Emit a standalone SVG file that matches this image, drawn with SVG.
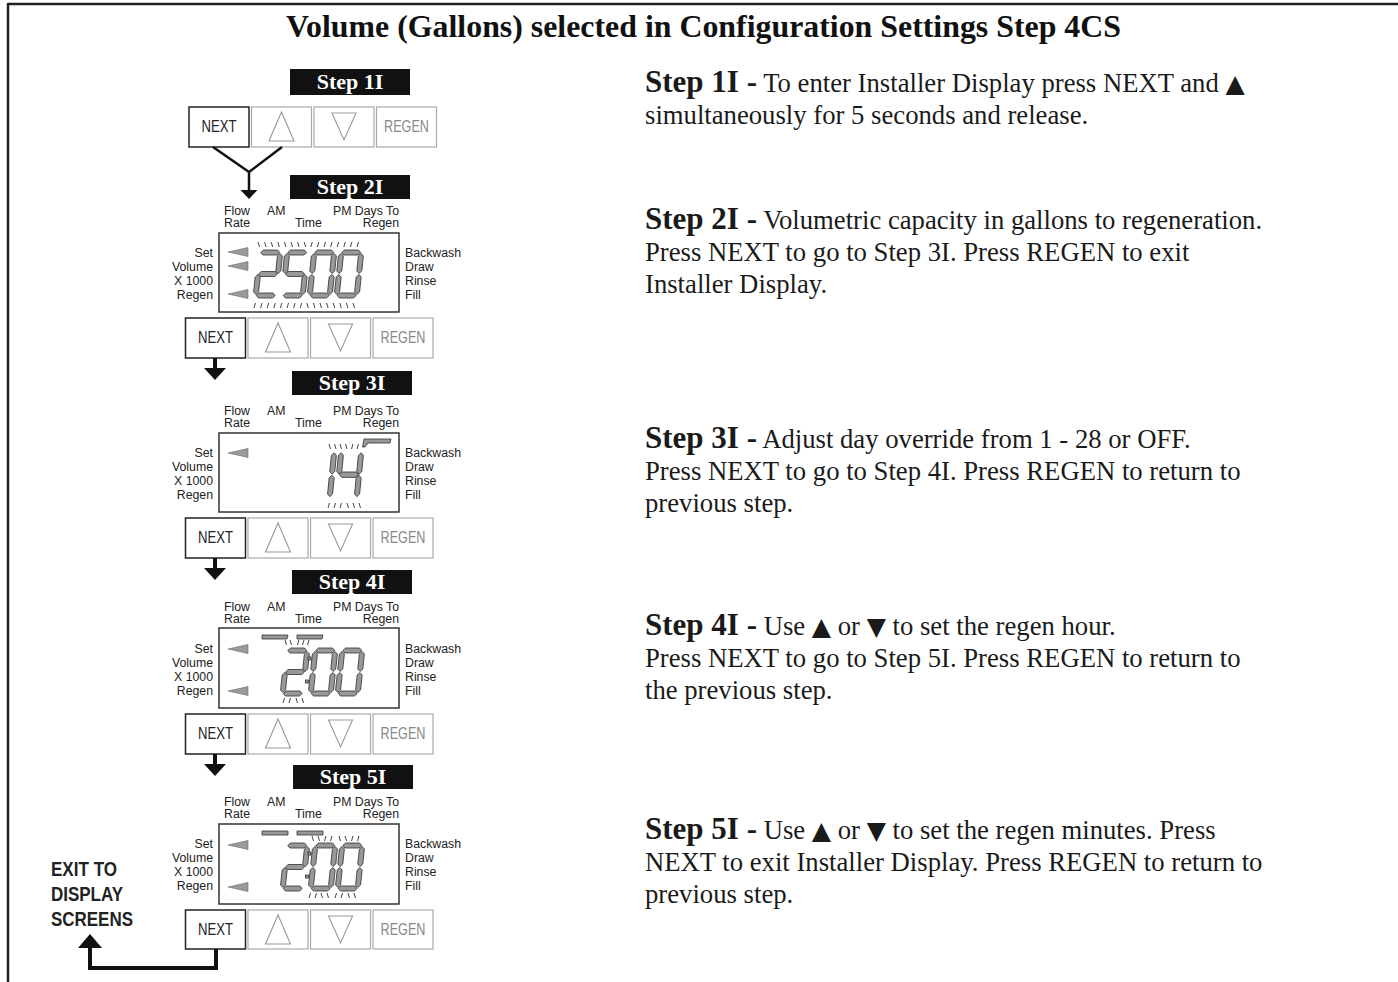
<svg xmlns="http://www.w3.org/2000/svg" xmlns:xlink="http://www.w3.org/1999/xlink" width="1398" height="982" viewBox="0 0 1398 982">
<style>
.title{font-family:"Liberation Serif","Times New Roman",serif;font-weight:bold;font-size:31.5px;fill:#111}
.body{font-family:"Liberation Serif","Times New Roman",serif;font-size:26.7px;fill:#1a1a1a}
.bstep{font-weight:bold;font-size:31px}
.tri2{font-family:"DejaVu Sans",sans-serif;font-size:25px}
.tag{fill:#111}
.tagt{font-family:"Liberation Serif","Times New Roman",serif;font-weight:bold;font-size:22px;fill:#fff;text-anchor:middle}
.lcd{font-family:"Liberation Sans",Arial,sans-serif;font-size:12.3px;fill:#222}
.r{text-anchor:end}
.box{fill:#fff;stroke:#333;stroke-width:1.5}
.bnext{fill:#fff;stroke:#222;stroke-width:1.5}
.bgr{fill:#fff;stroke:#aaa;stroke-width:1.2}
.tri{fill:none;stroke:#999;stroke-width:1.1}
.btxt{font-family:"Liberation Sans",Arial,sans-serif;font-size:16.5px;text-anchor:middle}
.seg{fill:#989898;stroke:#333;stroke-width:0.8}
.ind{fill:#9a9a9a;stroke:#6a6a6a;stroke-width:0.6}
.tick{fill:none;stroke:#444;stroke-width:1}
.con{fill:none;stroke:#111;stroke-linejoin:miter}
.head{fill:#111}
.exit{font-family:"Liberation Sans",Arial,sans-serif;font-weight:bold;font-size:20px;fill:#222}
</style>
<defs>
<polygon id="sA" class="seg" points="3,2.5 5.5,0 19.5,0 22,2.5 19.5,5 5.5,5"/>
<polygon id="sG" class="seg" points="3,24 5.5,21.5 19.5,21.5 22,24 19.5,26.5 5.5,26.5"/>
<polygon id="sD" class="seg" points="3,45.5 5.5,43 19.5,43 22,45.5 19.5,48 5.5,48"/>
<polygon id="sF" class="seg" points="2.5,3.5 5,6 5,21 2.5,23.5 0,21 0,6"/>
<polygon id="sB" class="seg" points="22.5,3.5 25,6 25,21 22.5,23.5 20,21 20,6"/>
<polygon id="sE" class="seg" points="2.5,24.5 5,27 5,42 2.5,44.5 0,42 0,27"/>
<polygon id="sC" class="seg" points="22.5,24.5 25,27 25,42 22.5,44.5 20,42 20,27"/>
<g id="d0"><use href="#sA"/><use href="#sB"/><use href="#sC"/><use href="#sD"/><use href="#sE"/><use href="#sF"/></g>
<g id="d1"><use href="#sB"/><use href="#sC"/></g>
<g id="d2"><use href="#sA"/><use href="#sB"/><use href="#sG"/><use href="#sE"/><use href="#sD"/></g>
<g id="d4"><use href="#sF"/><use href="#sG"/><use href="#sB"/><use href="#sC"/></g>
<g id="d5"><use href="#sA"/><use href="#sF"/><use href="#sG"/><use href="#sC"/><use href="#sD"/></g>
<polygon id="arr" class="ind" points="0,0 20,-4.5 20,4.5"/>
</defs>

<g id="frame">
<line x1="8" y1="4" x2="1398" y2="4" stroke="#222" stroke-width="2.5"/>
<line x1="8" y1="3" x2="8" y2="982" stroke="#222" stroke-width="2.5"/>
</g>

<text id="title" class="title" x="286" y="37" textLength="835" lengthAdjust="spacingAndGlyphs">Volume (Gallons) selected in Configuration Settings Step 4CS</text>

<!-- Step 1I -->
<g id="step1I">
<rect class="tag" x="290" y="69" width="120" height="26"/>
<text class="tagt" x="350" y="89">Step 1I</text>
<rect class="bnext" x="189" y="107" width="60" height="40"/>
<text class="btxt" x="219" y="132" textLength="35" lengthAdjust="spacingAndGlyphs" fill="#222">NEXT</text>
<rect class="bgr" x="251.5" y="107" width="60" height="40"/>
<polygon class="tri" points="281.5,112 269,141 294,141"/>
<rect class="bgr" x="314" y="107" width="60" height="40"/>
<polygon class="tri" points="332,113 356,113 344,140"/>
<rect class="bgr" x="376.5" y="107" width="60" height="40"/>
<text class="btxt" x="406.5" y="132" textLength="45" lengthAdjust="spacingAndGlyphs" fill="#888">REGEN</text>
</g>

<!-- Step 2I -->
<g id="step2I">
<rect class="tag" x="290" y="175" width="120" height="24"/>
<text class="tagt" x="350" y="194">Step 2I</text>
<text class="lcd" x="224" y="215">Flow</text><text class="lcd" x="224" y="226.5">Rate</text>
<text class="lcd" x="267" y="215">AM</text><text class="lcd" x="295" y="227">Time</text>
<text class="lcd" x="333" y="215">PM Days To</text><text class="lcd r" x="399" y="226.5">Regen</text>
<text class="lcd r" x="213" y="257">Set</text><text class="lcd r" x="213" y="271">Volume</text>
<text class="lcd r" x="213" y="285">X 1000</text><text class="lcd r" x="213" y="299">Regen</text>
<text class="lcd" x="405" y="257">Backwash</text><text class="lcd" x="405" y="271">Draw</text>
<text class="lcd" x="405" y="285">Rinse</text><text class="lcd" x="405" y="299">Fill</text>
<rect class="box" x="219" y="233" width="180" height="79"/>
<use href="#arr" x="228" y="252"/><use href="#arr" x="228" y="266"/><use href="#arr" x="228" y="294"/>
<use href="#d2" transform="translate(258,250) skewX(-6)"/>
<use href="#d5" transform="translate(285,250) skewX(-6)"/>
<use href="#d0" transform="translate(312,250) skewX(-6)"/>
<use href="#d0" transform="translate(339,250) skewX(-6)"/>
<path class="tick" d="M258 242l1.5 5M264.6 242l1.5 5M271.2 242l1.5 5M277.8 242l1.5 5M284.4 242l1.5 5M291 242l1.5 5M297.6 242l1.5 5M304.2 242l1.5 5M312.3 242l-1.5 5M318.9 242l-1.5 5M325.5 242l-1.5 5M332.1 242l-1.5 5M338.7 242l-1.5 5M345.3 242l-1.5 5M351.9 242l-1.5 5M358.5 242l-1.5 5M255.5 303l-1.5 5M262.1 303l-1.5 5M268.7 303l-1.5 5M275.3 303l-1.5 5M281.9 303l-1.5 5M288.5 303l-1.5 5M295.1 303l-1.5 5M301.7 303l-1.5 5M306.8 303l1.5 5M313.4 303l1.5 5M320 303l1.5 5M326.6 303l1.5 5M333.2 303l1.5 5M339.8 303l1.5 5M346.4 303l1.5 5M353 303l1.5 5"/>
<rect class="bnext" x="185.5" y="318" width="60" height="40"/>
<text class="btxt" x="215.5" y="343" textLength="35" lengthAdjust="spacingAndGlyphs" fill="#222">NEXT</text>
<rect class="bgr" x="248" y="318" width="60" height="40"/>
<polygon class="tri" points="278,323 265.5,352 290.5,352"/>
<rect class="bgr" x="310.5" y="318" width="60" height="40"/>
<polygon class="tri" points="328.5,324 352.5,324 340.5,351"/>
<rect class="bgr" x="373" y="318" width="60" height="40"/>
<text class="btxt" x="403" y="343" textLength="45" lengthAdjust="spacingAndGlyphs" fill="#888">REGEN</text>
</g>

<!-- Step 3I -->
<g id="step3I">
<rect class="tag" x="292" y="371" width="120" height="24"/>
<text class="tagt" x="352" y="390">Step 3I</text>
<text class="lcd" x="224" y="415">Flow</text><text class="lcd" x="224" y="426.5">Rate</text>
<text class="lcd" x="267" y="415">AM</text><text class="lcd" x="295" y="427">Time</text>
<text class="lcd" x="333" y="415">PM Days To</text><text class="lcd r" x="399" y="426.5">Regen</text>
<text class="lcd r" x="213" y="457">Set</text><text class="lcd r" x="213" y="471">Volume</text>
<text class="lcd r" x="213" y="485">X 1000</text><text class="lcd r" x="213" y="499">Regen</text>
<text class="lcd" x="405" y="457">Backwash</text><text class="lcd" x="405" y="471">Draw</text>
<text class="lcd" x="405" y="485">Rinse</text><text class="lcd" x="405" y="499">Fill</text>
<rect class="box" x="219" y="433" width="180" height="79"/>
<use href="#arr" x="228" y="453"/>
<use href="#d1" transform="translate(312,449) scale(1,1.07) skewX(-6)"/>
<use href="#d4" transform="translate(339,449) scale(1,1.07) skewX(-6)"/>
<polygon class="seg" points="364,439 391,439 390,443 368,443 365,447 362.5,447"/>
<path class="tick" d="M329 444l1.5 5M334.5 444l1.5 5M340 444l1.5 5M345.5 444l1.5 5M353 444l-1.5 5M358.5 444l-1.5 5M329.5 503l-1.5 5M335.5 503l-1.5 5M341.5 503l-1.5 5M347 503l1.5 5M353 503l1.5 5M359 503l1.5 5"/>
<rect class="bnext" x="185.5" y="518" width="60" height="40"/>
<text class="btxt" x="215.5" y="543" textLength="35" lengthAdjust="spacingAndGlyphs" fill="#222">NEXT</text>
<rect class="bgr" x="248" y="518" width="60" height="40"/>
<polygon class="tri" points="278,523 265.5,552 290.5,552"/>
<rect class="bgr" x="310.5" y="518" width="60" height="40"/>
<polygon class="tri" points="328.5,524 352.5,524 340.5,551"/>
<rect class="bgr" x="373" y="518" width="60" height="40"/>
<text class="btxt" x="403" y="543" textLength="45" lengthAdjust="spacingAndGlyphs" fill="#888">REGEN</text>
</g>

<!-- Step 4I -->
<g id="step4I">
<rect class="tag" x="292" y="570" width="120" height="24"/>
<text class="tagt" x="352" y="589">Step 4I</text>
<text class="lcd" x="224" y="611">Flow</text><text class="lcd" x="224" y="622.5">Rate</text>
<text class="lcd" x="267" y="611">AM</text><text class="lcd" x="295" y="623">Time</text>
<text class="lcd" x="333" y="611">PM Days To</text><text class="lcd r" x="399" y="622.5">Regen</text>
<text class="lcd r" x="213" y="653">Set</text><text class="lcd r" x="213" y="667">Volume</text>
<text class="lcd r" x="213" y="681">X 1000</text><text class="lcd r" x="213" y="695">Regen</text>
<text class="lcd" x="405" y="653">Backwash</text><text class="lcd" x="405" y="667">Draw</text>
<text class="lcd" x="405" y="681">Rinse</text><text class="lcd" x="405" y="695">Fill</text>
<rect class="box" x="219" y="628" width="180" height="80"/>
<use href="#arr" x="228" y="649"/><use href="#arr" x="228" y="691"/>
<polygon class="seg" points="262,635 288,635 287,639 262,639"/>
<polygon class="seg" points="297,635 323,635 322,639 297,639"/>
<use href="#d2" transform="translate(285,648) skewX(-6)"/>
<use href="#d0" transform="translate(313,648) skewX(-6)"/>
<use href="#d0" transform="translate(340,648) skewX(-6)"/>
<rect class="seg" x="308" y="657" width="3" height="3"/>
<rect class="seg" x="305.5" y="680" width="3" height="3"/>
<path class="tick" d="M285 640l1.5 5M290 640l1.5 5M299 640l-1.5 5M304 640l-1.5 5M309 640l-1.5 5M284.5 698l-1.5 5M290.5 698l-1.5 5M296 698l1.5 5M302 698l1.5 5"/>
<rect class="bnext" x="185.5" y="714" width="60" height="40"/>
<text class="btxt" x="215.5" y="739" textLength="35" lengthAdjust="spacingAndGlyphs" fill="#222">NEXT</text>
<rect class="bgr" x="248" y="714" width="60" height="40"/>
<polygon class="tri" points="278,719 265.5,748 290.5,748"/>
<rect class="bgr" x="310.5" y="714" width="60" height="40"/>
<polygon class="tri" points="328.5,720 352.5,720 340.5,747"/>
<rect class="bgr" x="373" y="714" width="60" height="40"/>
<text class="btxt" x="403" y="739" textLength="45" lengthAdjust="spacingAndGlyphs" fill="#888">REGEN</text>
</g>

<!-- Step 5I -->
<g id="step5I">
<rect class="tag" x="293" y="765" width="120" height="24"/>
<text class="tagt" x="353" y="784">Step 5I</text>
<text class="lcd" x="224" y="806">Flow</text><text class="lcd" x="224" y="817.5">Rate</text>
<text class="lcd" x="267" y="806">AM</text><text class="lcd" x="295" y="818">Time</text>
<text class="lcd" x="333" y="806">PM Days To</text><text class="lcd r" x="399" y="817.5">Regen</text>
<text class="lcd r" x="213" y="848">Set</text><text class="lcd r" x="213" y="862">Volume</text>
<text class="lcd r" x="213" y="876">X 1000</text><text class="lcd r" x="213" y="890">Regen</text>
<text class="lcd" x="405" y="848">Backwash</text><text class="lcd" x="405" y="862">Draw</text>
<text class="lcd" x="405" y="876">Rinse</text><text class="lcd" x="405" y="890">Fill</text>
<rect class="box" x="219" y="824" width="180" height="80"/>
<use href="#arr" x="228" y="845"/><use href="#arr" x="228" y="887"/>
<polygon class="seg" points="262,831 288,831 288,835 262,835"/>
<polygon class="seg" points="297,831 323,831 323,835 297,835"/>
<use href="#d2" transform="translate(285,843) skewX(-6)"/>
<use href="#d0" transform="translate(313,843) skewX(-6)"/>
<use href="#d0" transform="translate(340,843) skewX(-6)"/>
<rect class="seg" x="308" y="852" width="3" height="3"/>
<rect class="seg" x="305.5" y="875" width="3" height="3"/>
<path class="tick" d="M312 836l1.5 5M318 836l1.5 5M326 836l-1.5 5M332 836l-1.5 5M339 836l1.5 5M345 836l1.5 5M353 836l-1.5 5M359 836l-1.5 5M310.5 893l-1.5 5M316.5 893l-1.5 5M321 893l1.5 5M327 893l1.5 5M336.5 893l-1.5 5M342.5 893l-1.5 5M348 893l1.5 5M354 893l1.5 5"/>
<rect class="bnext" x="185.5" y="910" width="60" height="39"/>
<text class="btxt" x="215.5" y="935" textLength="35" lengthAdjust="spacingAndGlyphs" fill="#222">NEXT</text>
<rect class="bgr" x="248" y="910" width="60" height="39"/>
<polygon class="tri" points="278,915 265.5,944 290.5,944"/>
<rect class="bgr" x="310.5" y="910" width="60" height="39"/>
<polygon class="tri" points="328.5,916 352.5,916 340.5,943"/>
<rect class="bgr" x="373" y="910" width="60" height="39"/>
<text class="btxt" x="403" y="935" textLength="45" lengthAdjust="spacingAndGlyphs" fill="#888">REGEN</text>
</g>

<g id="exit-label">
<text class="exit" x="51" y="876" textLength="66" lengthAdjust="spacingAndGlyphs">EXIT TO</text>
<text class="exit" x="51" y="901" textLength="72" lengthAdjust="spacingAndGlyphs">DISPLAY</text>
<text class="exit" x="51" y="926" textLength="82" lengthAdjust="spacingAndGlyphs">SCREENS</text>
</g>

<g id="connectors">
<polyline class="con" stroke-width="2.5" points="213,147 249,172 282,147"/>
<line class="con" stroke-width="2.5" x1="249" y1="172" x2="249" y2="191"/>
<polygon class="head" points="240.5,190 257.5,190 249,199"/>
<line class="con" stroke-width="4" x1="215" y1="358" x2="215" y2="369"/>
<polygon class="head" points="204,368 226,368 215,380"/>
<line class="con" stroke-width="4" x1="215" y1="558" x2="215" y2="569"/>
<polygon class="head" points="204,568 226,568 215,580"/>
<line class="con" stroke-width="4" x1="215" y1="754" x2="215" y2="765"/>
<polygon class="head" points="204,764 226,764 215,776"/>
<polyline class="con" stroke-width="4" points="216,949 216,968 90,968 90,946"/>
<polygon class="head" points="78,948 102,948 90,934"/>
</g>

<g id="text1I">
<text class="body" x="645" y="92"><tspan class="bstep">Step 1I -</tspan> To enter Installer Display press NEXT and <tspan class="tri2">▲</tspan></text>
<text class="body" x="645" y="124">simultaneously for 5 seconds and release.</text>
</g>
<g id="text2I">
<text class="body" x="645" y="229"><tspan class="bstep">Step 2I -</tspan> Volumetric capacity in gallons to regeneration.</text>
<text class="body" x="645" y="261">Press NEXT to go to Step 3I. Press REGEN to exit</text>
<text class="body" x="645" y="293">Installer Display.</text>
</g>
<g id="text3I">
<text class="body" x="645" y="448"><tspan class="bstep">Step 3I -</tspan> Adjust day override from 1 - 28 or OFF.</text>
<text class="body" x="645" y="480">Press NEXT to go to Step 4I. Press REGEN to return to</text>
<text class="body" x="645" y="512">previous step.</text>
</g>
<g id="text4I">
<text class="body" x="645" y="635"><tspan class="bstep">Step 4I -</tspan> Use <tspan class="tri2">▲</tspan> or <tspan class="tri2">▼</tspan> to set the regen hour.</text>
<text class="body" x="645" y="667">Press NEXT to go to Step 5I. Press REGEN to return to</text>
<text class="body" x="645" y="699">the previous step.</text>
</g>
<g id="text5I">
<text class="body" x="645" y="839"><tspan class="bstep">Step 5I -</tspan> Use <tspan class="tri2">▲</tspan> or <tspan class="tri2">▼</tspan> to set the regen minutes. Press</text>
<text class="body" x="645" y="871">NEXT to exit Installer Display. Press REGEN to return to</text>
<text class="body" x="645" y="903">previous step.</text>
</g>
</svg>
